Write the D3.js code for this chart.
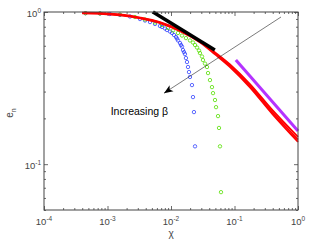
<!DOCTYPE html>
<html>
<head>
<meta charset="utf-8">
<script src="https://cdn.jsdelivr.net/npm/d3@7"></script>
<style>
  body { margin: 0; background: #fff; }
  text { font-family: "Liberation Sans", Arial, sans-serif; }
</style>
</head>
<body>
<div id="chart"></div>
<script>
// Data: [chi, e_n]
var redA = [[0.0004,0.99],[0.00076,0.985],[0.00157,0.963],[0.00325,0.92],[0.0067,0.859],[0.0139,0.761],
            [0.0287,0.645],[0.0493,0.543],[0.085,0.452],[0.175,0.336],[0.39,0.228],[1.0,0.151]];
var redB = [[0.0004,0.985],[0.00076,0.98],[0.00157,0.958],[0.00325,0.915],[0.0067,0.853],[0.0139,0.755],
            [0.0287,0.638],[0.0493,0.535],[0.085,0.443],[0.175,0.327],[0.39,0.221],[1.0,0.145]];
var redC = [[0.0004,0.978],[0.00076,0.974],[0.00157,0.952],[0.00325,0.909],[0.0067,0.846],[0.0139,0.748],
            [0.0287,0.631],[0.0493,0.527],[0.085,0.435],[0.175,0.32],[0.39,0.215],[1.0,0.14]];
var blue = [[0.00045,0.982],[0.00076,0.978],[0.00109,0.97],[0.00157,0.956],[0.00226,0.934],[0.00325,0.899],
            [0.0039,0.879],[0.00467,0.859],[0.0056,0.834],[0.0067,0.809],[0.00721,0.797],[0.00805,0.779],
            [0.00865,0.761],[0.00964,0.744],[0.01037,0.728],[0.01115,0.706],[0.012,0.685],[0.01242,0.669],
            [0.01289,0.65],[0.01387,0.625],[0.01436,0.607],[0.0149,0.593],[0.01545,0.562],[0.01603,0.545],
            [0.0166,0.529],[0.0172,0.498],[0.01786,0.469],[0.01853,0.435],[0.0192,0.403],[0.0199,0.374],
            [0.0214,0.331],[0.0222,0.276],[0.023,0.22],[0.0239,0.131]];
var green = [[0.00045,0.982],[0.00076,0.978],[0.00157,0.963],[0.00271,0.927],[0.0039,0.893],[0.0056,0.853],
             [0.00721,0.821],[0.00898,0.785],[0.01075,0.756],[0.01289,0.728],[0.0149,0.7],[0.0172,0.674],
             [0.0199,0.65],[0.0222,0.63],[0.0239,0.607],[0.0257,0.584],[0.0276,0.558],[0.0286,0.537],
             [0.0308,0.51],[0.0319,0.483],[0.0343,0.458],[0.0369,0.435],[0.0383,0.397],[0.0411,0.357],
             [0.0442,0.321],[0.0459,0.293],[0.0493,0.264],[0.0512,0.237],[0.055,0.207],[0.057,0.173],
             [0.0591,0.131],[0.0613,0.0655]];
var blackLine = [[0.0052,1.0],[0.049,0.562]];
var purpleLine = [[0.105,0.483],[1.0,0.165]];
var arrowPts = [[0.54,0.927],[0.00776,0.293]];
var arrowLabel = { chi: 0.00112, e: 0.21, text: "Increasing \u03b2" };
var xMajor = [1e-4, 1e-3, 1e-2, 1e-1, 1];
var xExp = ["-4", "-3", "-2", "-1", "0"];
var yMajor = [0.1, 1];
var yExp = ["-1", "0"];

var margin = { top: 12, right: 11, bottom: 31, left: 44 };
var width = 309 - margin.left - margin.right;
var height = 241 - margin.top - margin.bottom;

var svg = d3.select("#chart").append("svg")
    .attr("width", 309).attr("height", 241)
    .append("g")
    .attr("transform", "translate(" + margin.left + "," + margin.top + ")");

var x = d3.scaleLog().domain([1e-4, 1]).range([0, width]);
var y = d3.scaleLog().domain([0.05, 1]).range([height, 0]);

var axisColor = "#444";

// ticks on all four sides, pointing inward
function ticks(axisFn, scale, values, size, tr) {
    var g = svg.append("g").attr("transform", tr)
        .call(axisFn(scale).tickValues(values).tickSize(size).tickFormat(""));
    g.select(".domain").remove();
    g.selectAll("line").attr("stroke", axisColor).attr("stroke-width", 0.8);
}
var xMinor = x.ticks().filter(function (v) { return xMajor.indexOf(v) < 0; });
var yMinor = y.ticks().filter(function (v) { return yMajor.indexOf(v) < 0; });
ticks(d3.axisBottom, x, xMinor, -2, "translate(0," + height + ")");
ticks(d3.axisBottom, x, xMajor, -4, "translate(0," + height + ")");
ticks(d3.axisTop, x, xMinor, -2, "translate(0,0)");
ticks(d3.axisTop, x, xMajor, -4, "translate(0,0)");
ticks(d3.axisLeft, y, yMinor, -2, "translate(0,0)");
ticks(d3.axisLeft, y, yMajor, -4, "translate(0,0)");
ticks(d3.axisRight, y, yMinor, -2, "translate(" + width + ",0)");
ticks(d3.axisRight, y, yMajor, -4, "translate(" + width + ",0)");

// tick labels
var xl = svg.append("g").selectAll("text").data(xMajor).enter().append("text")
    .attr("x", function (d) { return x(d); })
    .attr("y", height + 15)
    .attr("text-anchor", "middle")
    .attr("font-size", 9.5).attr("fill", "#444");
xl.append("tspan").text("10");
xl.append("tspan").attr("dy", -4).attr("font-size", 6.5).text(function (d, i) { return xExp[i]; });

var yl = svg.append("g").selectAll("text").data(yMajor).enter().append("text")
    .attr("x", -3)
    .attr("y", function (d) { return y(d) + 5; })
    .attr("text-anchor", "end")
    .attr("font-size", 9.5).attr("fill", "#444");
yl.append("tspan").text("10");
yl.append("tspan").attr("dy", -4).attr("font-size", 6.5).text(function (d, i) { return yExp[i]; });

// axis titles
var yt = svg.append("text")
    .attr("transform", "translate(" + (-31) + "," + (height / 2 + 2) + ") rotate(-90)")
    .attr("text-anchor", "middle").attr("font-size", 10).attr("fill", "#444");
yt.append("tspan").text("e");
yt.append("tspan").attr("dy", 3).attr("font-size", 7).text("n");
svg.append("text")
    .attr("x", width / 2).attr("y", height + 27)
    .attr("text-anchor", "middle").attr("font-size", 10).attr("fill", "#444")
    .text("\u03c7");

var line = d3.line()
    .x(function (d) { return x(d[0]); })
    .y(function (d) { return y(d[1]); });
var smooth = d3.line()
    .curve(d3.curveCatmullRom)
    .x(function (d) { return x(d[0]); })
    .y(function (d) { return y(d[1]); });

var plot = svg.append("g");

// circle series
function circles(data, color) {
    plot.append("g").selectAll("circle").data(data).enter().append("circle")
        .attr("cx", function (d) { return x(d[0]); })
        .attr("cy", function (d) { return y(d[1]); })
        .attr("r", 1.7)
        .attr("fill", "none")
        .attr("stroke", color)
        .attr("stroke-width", 0.8);
}
circles(blue, "#3344ff");
circles(green, "#55e000");

[redC, redB, redA].forEach(function (s) {
    plot.append("path").datum(s).attr("d", smooth)
        .attr("fill", "none").attr("stroke", "#ff0000").attr("stroke-width", 1.8);
});

plot.append("path").datum(blackLine).attr("d", line)
    .attr("fill", "none").attr("stroke", "#000").attr("stroke-width", 3.5);
plot.append("path").datum(purpleLine).attr("d", line)
    .attr("fill", "none").attr("stroke", "#b433ff").attr("stroke-width", 3);

// annotation arrow
svg.append("defs").append("marker")
    .attr("id", "head").attr("viewBox", "0 0 10 10")
    .attr("refX", 10).attr("refY", 5)
    .attr("markerWidth", 9).attr("markerHeight", 9)
    .attr("markerUnits", "userSpaceOnUse")
    .attr("orient", "auto")
    .append("path").attr("d", "M0,1 L10,5 L0,9 L2.5,5 Z").attr("fill", "#000");
plot.append("path").datum(arrowPts).attr("d", line)
    .attr("fill", "none").attr("stroke", "#222").attr("stroke-width", 0.6)
    .attr("marker-end", "url(#head)");
plot.append("text")
    .attr("x", x(arrowLabel.chi)).attr("y", y(arrowLabel.e))
    .attr("font-size", 10.5).attr("fill", "#000")
    .text(arrowLabel.text);

// frame
svg.append("rect").attr("width", width).attr("height", height)
    .attr("fill", "none").attr("stroke", axisColor).attr("stroke-width", 1);
</script>
</body>
</html>
